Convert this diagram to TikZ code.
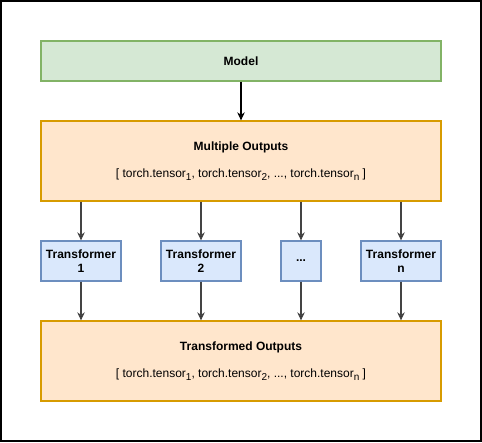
\documentclass[tikz,border=0pt]{standalone}
\usepackage{fontspec}
\setmainfont{Liberation Sans}
\usetikzlibrary{arrows.meta}
\definecolor{gfill}{HTML}{D5E8D4}
\definecolor{gline}{HTML}{82B366}
\definecolor{ofill}{HTML}{FFE6CC}
\definecolor{oline}{HTML}{D79B00}
\definecolor{bfill}{HTML}{DAE8FC}
\definecolor{bline}{HTML}{6C8EBF}
\definecolor{arrline}{HTML}{444444}
\newcommand{\mysub}[1]{\raisebox{-3pt}{\fontsize{10}{12}\selectfont #1}}
\begin{document}
\begin{tikzpicture}[x=1pt,y=-1pt,
  box/.style={draw, line width=1.3pt, inner sep=0pt, anchor=center},
  greenbox/.style={box, fill=gfill, draw=gline, minimum width=400pt, minimum height=40pt},
  orangebox/.style={box, fill=ofill, draw=oline, minimum width=400pt, minimum height=80pt},
  bluebox/.style={box, fill=bfill, draw=bline, minimum height=40pt},
  title/.style={font=\fontsize{12}{14.4}\selectfont\bfseries, inner sep=0pt},
  txt/.style={font=\fontsize{12}{14.4}\selectfont, inner sep=0pt},
  arr/.style={draw=arrline, line width=1.2pt, -{Stealth[length=8pt,width=7.5pt,inset=2.5pt,fill=black]}}
]
\useasboundingbox (0,0) rectangle (482,442);
\draw[line width=1.6pt, black] (1,1) rectangle (481,441);

\node[greenbox] (model) at (241,61) {};
\node[title] (modeltxt) at (241,61) {Model};

\node[orangebox] (mo) at (241,161) {};
\node[title] (motitle) at (241,147) {Multiple Outputs};
\node[txt] (molist) at (241,175) {[ torch.tensor\mysub{1}, torch.tensor\mysub{2}, ..., torch.tensor\mysub{n} ]};

\node[bluebox, minimum width=80pt, align=center, title] (t1) at (81,261) {Transformer\\1};
\node[bluebox, minimum width=80pt, align=center, title] (t2) at (201,261) {Transformer\\2};
\node[bluebox, minimum width=40pt, align=center, title] (t3) at (301,261) {...};
\node[bluebox, minimum width=80pt, align=center, title] (tn) at (401,261) {Transformer\\n};

\node[orangebox] (to) at (241,361) {};
\node[title] (totitle) at (241,347) {Transformed Outputs};
\node[txt] (tolist) at (241,375) {[ torch.tensor\mysub{1}, torch.tensor\mysub{2}, ..., torch.tensor\mysub{n} ]};

\draw[arr, draw=black] (model.south) -- (mo.north);
\foreach \t in {t1,t2,t3,tn}{
  \draw[arr] (mo.south -| \t.north) -- (\t.north);
  \draw[arr] (\t.south) -- (to.north -| \t.south);
}
\end{tikzpicture}
\end{document}
